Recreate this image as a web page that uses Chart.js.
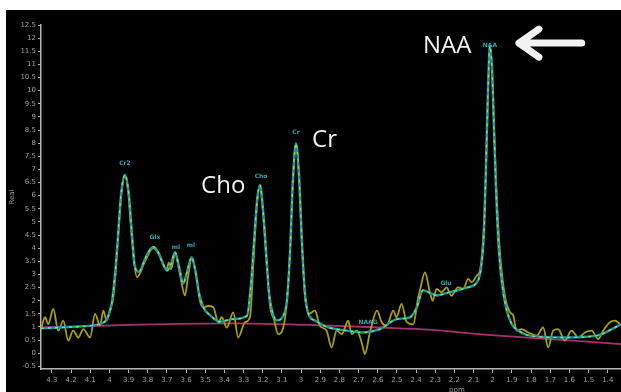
<!DOCTYPE html>
<html>
<head>
<meta charset="utf-8">
<script src="https://cdn.jsdelivr.net/npm/chart.js@4/dist/chart.umd.min.js"></script>
<style>
  html, body { margin: 0; padding: 0; background: #fff; }
  #wrap { width: 621px; height: 392px; position: relative; }
</style>
</head>
<body>
<div id="wrap"><canvas id="spec"></canvas></div>
<script>
/* globals Chart:false */

// chemical shift axis (ppm) and intensity ("Real")
const xTicks = [4.3, 4.2, 4.1, 4, 3.9, 3.8, 3.7, 3.6, 3.5, 3.4, 3.3, 3.2, 3.1, 3,
  2.9, 2.8, 2.7, 2.6, 2.5, 2.4, 2.3, 2.2, 2.1, 2, 1.9, 1.8, 1.7, 1.6, 1.5, 1.4];
const yTicks = [12.5, 12, 11.5, 11, 10.5, 10, 9.5, 9, 8.5, 8, 7.5, 7, 6.5, 6, 5.5,
  5, 4.5, 4, 3.5, 3, 2.5, 2, 1.5, 1, 0.5, 0, -0.5];

// measured spectrum (yellow)
const rawPpm = [
  4.354, 4.336, 4.319, 4.293, 4.267, 4.241, 4.215, 4.189, 4.162, 4.136,
  4.101, 4.075, 4.049, 4.032, 4.014, 3.997, 3.980, 3.966, 3.950, 3.934,
  3.919, 3.903, 3.888, 3.872, 3.856, 3.814, 3.772, 3.736, 3.701, 3.691,
  3.678, 3.658, 3.632, 3.606, 3.590, 3.571, 3.548, 3.528, 3.510, 3.486,
  3.458, 3.432, 3.414, 3.388, 3.354, 3.328, 3.293, 3.267, 3.246, 3.230,
  3.214, 3.199, 3.183, 3.162, 3.142, 3.120, 3.093, 3.074, 3.058, 3.043,
  3.027, 3.011, 2.996, 2.980, 2.959, 2.928, 2.902, 2.867, 2.841, 2.815,
  2.788, 2.754, 2.736, 2.710, 2.684, 2.667, 2.641, 2.604, 2.580, 2.554,
  2.519, 2.502, 2.476, 2.450, 2.415, 2.389, 2.380, 2.354, 2.328, 2.314,
  2.293, 2.267, 2.241, 2.216, 2.182, 2.154, 2.128, 2.111, 2.083, 2.067,
  2.051, 2.036, 2.025, 2.015, 2.004, 1.994, 1.983, 1.963, 1.937, 1.910,
  1.893, 1.876, 1.850, 1.815, 1.771, 1.737, 1.711, 1.685, 1.659, 1.624,
  1.589, 1.554, 1.519, 1.484, 1.450, 1.424, 1.389, 1.363, 1.337
];
const rawReal = [
  1.0, 1.37, 1.11, 1.69, 0.86, 1.24, 0.48, 0.86, 0.60, 0.92,
  0.60, 1.50, 1.05, 1.62, 1.24, 1.69, 2.1, 3.2, 4.9, 6.3,
  6.75, 6.2, 4.8, 3.5, 2.9, 3.5, 4.0, 3.7, 3.2, 3.45,
  3.2, 3.8, 3.0, 2.2, 2.9, 3.6, 3.0, 2.0, 1.75, 1.8,
  1.75, 1.18, 1.37, 0.98, 1.56, 0.60, 1.18, 1.37, 3.8, 5.7,
  6.35, 5.4, 3.7, 1.8, 1.3, 0.73, 0.98, 2.0, 3.9, 6.6,
  7.95, 6.7, 4.2, 2.2, 1.5, 1.62, 1.05, 0.86, 0.22, 0.86,
  0.73, 1.24, 0.73, 0.86, 0.41, -0.03, 0.79, 1.62, 1.18, 1.05,
  1.62, 1.37, 1.88, 1.20, 1.1, 2.13, 2.39, 3.08, 2.32, 2.0,
  2.45, 2.32, 2.51, 2.19, 2.51, 2.45, 2.83, 2.70, 2.96, 3.15,
  4.3, 6.8, 9.8, 11.6, 10.9, 8.8, 6.6, 3.91, 2.19, 1.56,
  1.43, 0.86, 0.92, 0.79, 0.67, 0.98, 0.22, 0.86, 0.92, 0.48,
  0.86, 0.60, 0.79, 0.86, 0.54, 0.86, 1.18, 1.24, 1.11
];

// fitted model (teal with green dashes)
const fitPpm = [
  4.357, 4.258, 4.101, 4.049, 4.014, 3.988, 3.971, 3.955, 3.940, 3.919,
  3.898, 3.882, 3.867, 3.846, 3.814, 3.788, 3.771, 3.746, 3.721, 3.699,
  3.678, 3.658, 3.637, 3.615, 3.595, 3.571, 3.553, 3.533, 3.510, 3.475,
  3.423, 3.355, 3.282, 3.262, 3.246, 3.230, 3.214, 3.199, 3.183, 3.167,
  3.147, 3.126, 3.095, 3.074, 3.058, 3.043, 3.027, 3.011, 2.996, 2.980,
  2.959, 2.928, 2.865, 2.761, 2.677, 2.589, 2.500, 2.432, 2.396, 2.364,
  2.328, 2.291, 2.239, 2.187, 2.135, 2.083, 2.062, 2.046, 2.036, 2.025,
  2.015, 2.004, 1.994, 1.983, 1.968, 1.947, 1.926, 1.900, 1.874, 1.806,
  1.634, 1.457, 1.373, 1.331
];
const fitReal = [
  0.95, 0.98, 1.05, 1.12, 1.3, 1.9, 3.0, 4.5, 6.0, 6.8,
  6.0, 4.5, 3.3, 3.1, 3.6, 3.95, 4.05, 3.85, 3.4, 3.15,
  3.4, 3.85, 3.3, 2.65, 3.1, 3.66, 3.2, 2.3, 1.75, 1.45,
  1.2, 1.3, 1.43, 2.6, 4.2, 5.8, 6.4, 5.5, 3.9, 2.3,
  1.5, 1.25, 1.4, 2.0, 3.8, 6.5, 8.0, 6.8, 4.3, 2.3,
  1.45, 1.25, 1.0, 0.86, 0.79, 0.92, 1.3, 1.37, 1.75, 2.4,
  2.3, 2.2, 2.3, 2.39, 2.5, 2.7, 3.2, 4.6, 7.0, 10.0,
  11.7, 10.8, 8.6, 6.2, 3.9, 2.4, 1.6, 1.1, 0.9, 0.67,
  0.6, 0.67, 0.94, 1.11
];

// baseline (magenta)
const basePpm = [4.357, 3.84, 3.37, 3.11, 2.85, 2.59, 2.33, 2.07, 1.72, 1.331];
const baseReal = [0.98, 1.09, 1.14, 1.11, 1.05, 0.98, 0.90, 0.73, 0.55, 0.35];

// metabolite labels on the fit
const peakNames = ["Cr2", "Glx", "ml", "ml", "Cho", "Cr", "NAA", "NAAG", "Glu"];
const peakPpm = [3.919, 3.762, 3.653, 3.575, 3.209, 3.027, 2.015, 2.651, 2.244];
const peakLabelY = [7.23, 4.41, 4.03, 4.1, 6.74, 8.42, 11.74, 1.16, 2.65];

// big white call-outs
const callNames = ["Cho", "Cr", "NAA"];
const callPpm = [3.522, 2.943, 2.364];
const callY = [6.09, 7.84, 11.43];

const pts = (xs, ys) => xs.map((x, i) => ({ x: x, y: ys[i] }));

const frame = {
  id: "frame",
  beforeDraw(chart) {
    const c = chart.ctx;
    c.save();
    c.fillStyle = "#ffffff";
    c.fillRect(0, 0, chart.width, chart.height);
    c.fillStyle = "#000000";
    c.fillRect(6, 10, chart.width - 6, chart.height - 10);
    c.restore();
  },
};

const notes = {
  id: "notes",
  afterDatasetsDraw(chart) {
    const c = chart.ctx;
    const sx = chart.scales.x, sy = chart.scales.y;
    c.save();
    // small metabolite tags
    c.fillStyle = "#2fa9b4";
    c.font = "bold 6px 'DejaVu Sans'";
    c.textAlign = "center";
    c.textBaseline = "middle";
    peakNames.forEach((n, i) => {
      c.fillText(n, sx.getPixelForValue(peakPpm[i]), sy.getPixelForValue(peakLabelY[i]));
    });
    // call-outs
    c.fillStyle = "#f2f2f2";
    c.font = "24px 'Open Sans'";
    c.textAlign = "left";
    c.textBaseline = "alphabetic";
    callNames.forEach((n, i) => {
      c.fillText(n, sx.getPixelForValue(callPpm[i]), sy.getPixelForValue(callY[i]));
    });
    // arrow pointing at NAA
    const tx = sx.getPixelForValue(1.874), ty = sy.getPixelForValue(11.81);
    const ex = sx.getPixelForValue(1.536);
    c.strokeStyle = "#f2f2f2";
    c.lineWidth = 7;
    c.lineCap = "round";
    c.lineJoin = "round";
    c.beginPath();
    c.moveTo(ex, ty);
    c.lineTo(tx + 3, ty);
    c.moveTo(tx + 22, ty - 14);
    c.lineTo(tx + 2, ty);
    c.lineTo(tx + 22, ty + 14);
    c.stroke();
    // axis title, cut by the bottom edge
    c.fillStyle = "#9a9a9a";
    c.font = "7px 'DejaVu Sans'";
    c.textAlign = "center";
    c.textBaseline = "top";
    c.fillText("ppm", sx.getPixelForValue(2.187), chart.height - 5);
    c.restore();
  },
};

const axisColor = "#b4b4b4";
const tickFont = { family: "'DejaVu Sans'", size: 7 };

new Chart(document.getElementById("spec"), {
  type: "line",
  data: {
    datasets: [
      {
        label: "fit dash",
        data: pts(fitPpm, fitReal),
        borderColor: "#a8d84a",
        borderWidth: 1.3,
        borderDash: [3, 4],
        order: 0,
      },
      {
        label: "fit",
        data: pts(fitPpm, fitReal),
        borderColor: "#1c98a4",
        borderWidth: 2.4,
        order: 1,
      },
      {
        label: "real",
        data: pts(rawPpm, rawReal),
        borderColor: "#aaa200",
        borderWidth: 1.8,
        order: 2,
      },
      {
        label: "baseline",
        data: pts(basePpm, baseReal),
        borderColor: "#a3326f",
        borderWidth: 1.8,
        order: 3,
      },
    ],
  },
  options: {
    responsive: true,
    maintainAspectRatio: false,
    animation: false,
    layout: { padding: { left: 6, top: 25, right: 0, bottom: 0 } },
    elements: {
      point: { radius: 0 },
      line: { cubicInterpolationMode: "monotone", fill: false },
    },
    plugins: {
      legend: { display: false },
      tooltip: { enabled: false },
    },
    scales: {
      x: {
        type: "linear",
        reverse: true,
        min: 1.331,
        max: 4.357,
        afterBuildTicks: (s) => { s.ticks = xTicks.map((v) => ({ value: v })); },
        afterFit: (s) => { s.height = 23; },
        grid: { drawOnChartArea: false, drawTicks: true, tickLength: 4, color: axisColor },
        border: { color: axisColor, width: 1.5 },
        ticks: { color: "#a0a0a0", font: tickFont, padding: 3, maxRotation: 0, autoSkip: false,
          callback: (v) => String(v) },
      },
      y: {
        type: "linear",
        min: -0.6,
        max: 12.5,
        afterBuildTicks: (s) => { s.ticks = yTicks.map((v) => ({ value: v })); },
        afterFit: (s) => { s.width = 35; },
        grid: { drawOnChartArea: false, drawTicks: true, tickLength: 3, color: axisColor },
        border: { color: axisColor, width: 1.5 },
        title: { display: true, text: "Real", color: "#9a9a9a", font: { family: "'DejaVu Sans'", size: 7 },
          padding: { top: 2, bottom: 0 } },
        ticks: { color: "#a0a0a0", font: tickFont, padding: 2, autoSkip: false,
          callback: (v) => String(v) },
      },
    },
  },
  plugins: [frame, notes],
});
</script>
</body>
</html>
